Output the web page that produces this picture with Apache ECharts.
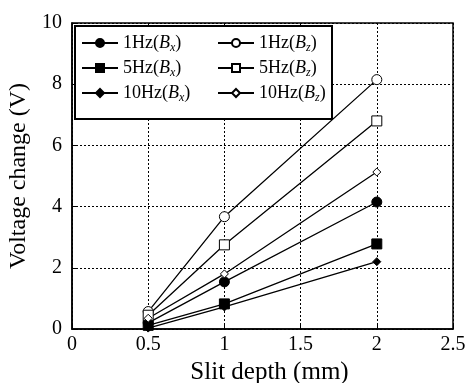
<!DOCTYPE html>
<html><head><meta charset="utf-8">
<script src="https://cdn.jsdelivr.net/npm/echarts@6/dist/echarts.min.js"></script>
<style>html,body{margin:0;padding:0;background:#fff}#c{width:467px;height:383px}</style>
</head><body><div id="c"></div>
<script>
const depths = [0.5, 1, 2];
const hz1Bx = [0.2, 1.54, 4.15];
const hz5Bx = [0.12, 0.82, 2.78];
const hz10Bx = [0.03, 0.72, 2.2];
const hz1Bz = [0.57, 3.67, 8.15];
const hz5Bz = [0.45, 2.75, 6.8];
const hz10Bz = [0.35, 1.8, 5.13];
const xTicks = [0, 0.5, 1, 1.5, 2, 2.5];
const yTicks = [0, 2, 4, 6, 8, 10];

const seriesDefs = [
  {name: '1Hz(Bx)', data: hz1Bx, symbol: 'circle', size: 10, fill: '#000', freq: '1Hz', sub: 'x'},
  {name: '1Hz(Bz)', data: hz1Bz, symbol: 'circle', size: 10, fill: '#fff', freq: '1Hz', sub: 'z'},
  {name: '5Hz(Bx)', data: hz5Bx, symbol: 'rect', size: 10, fill: '#000', freq: '5Hz', sub: 'x'},
  {name: '5Hz(Bz)', data: hz5Bz, symbol: 'rect', size: 10, fill: '#fff', freq: '5Hz', sub: 'z'},
  {name: '10Hz(Bx)', data: hz10Bx, symbol: 'diamond', size: 8, fill: '#000', freq: '10Hz', sub: 'x'},
  {name: '10Hz(Bz)', data: hz10Bz, symbol: 'diamond', size: 8, fill: '#fff', freq: '10Hz', sub: 'z'}
];
const lookup = {};
seriesDefs.forEach(s => lookup[s.name] = s);

const FONT = 'Liberation Serif';
const rich = {
  n: {fontFamily: FONT, fontSize: 18, color: '#000', lineHeight: 22, verticalAlign: 'middle'},
  i: {fontFamily: FONT, fontStyle: 'italic', fontSize: 18, color: '#000', lineHeight: 22, verticalAlign: 'middle'},
  s: {fontFamily: FONT, fontStyle: 'italic', fontSize: 12, color: '#000', lineHeight: 12, verticalAlign: 'bottom'}
};
function fmt(name) {
  const s = lookup[name];
  return '{n|' + s.freq + '(}{i|B}{s|' + s.sub + '}{n|)}';
}
function legend(names, left) {
  return {
    data: names, orient: 'vertical', left: left, top: 34,
    itemWidth: 36, itemHeight: 10, itemGap: 5,
    formatter: fmt, textStyle: {rich: rich}, selectedMode: false, padding: 0
  };
}

const chart = echarts.init(document.getElementById('c'), null, {renderer: 'canvas'});
chart.setOption({
  animation: false,
  backgroundColor: '#fff',
  grid: {left: 72, right: 14, top: 23, bottom: 54, outerBoundsMode: 'none', containLabel: false,
    show: true, borderColor: '#000', borderWidth: 1.5, backgroundColor: 'transparent'},
  graphic: [{
    type: 'rect', left: 74, top: 25, z: 3,
    shape: {width: 257, height: 93},
    style: {fill: '#fff', stroke: '#000', lineWidth: 2}
  }],
  legend: [
    legend(['1Hz(Bx)', '5Hz(Bx)', '10Hz(Bx)'], 81),
    legend(['1Hz(Bz)', '5Hz(Bz)', '10Hz(Bz)'], 217)
  ],
  xAxis: {
    type: 'value', min: 0, max: 2.5, interval: 0.5,
    name: 'Slit depth (mm)', nameLocation: 'middle', nameGap: 29,
    nameTextStyle: {fontFamily: FONT, fontSize: 25, color: '#000', padding: [0, 0, 0, 14]},
    axisLine: {show: true, lineStyle: {color: '#000', width: 1.5}},
    axisTick: {show: true, inside: true, length: 4, lineStyle: {color: '#000'}},
    axisLabel: {fontFamily: FONT, fontSize: 20, color: '#000', margin: 6,
      formatter: v => xTicks.includes(v) ? String(v) : ''},
    splitLine: {show: true, lineStyle: {color: '#000', type: [2, 2], width: 1}}
  },
  yAxis: {
    type: 'value', min: 0, max: 10, interval: 2,
    name: 'Voltage change (V)', nameLocation: 'middle', nameGap: 31,
    nameTextStyle: {fontFamily: FONT, fontSize: 24, color: '#000'},
    axisLine: {show: true, lineStyle: {color: '#000', width: 1.5}},
    axisTick: {show: true, inside: true, length: 4, lineStyle: {color: '#000'}},
    axisLabel: {fontFamily: FONT, fontSize: 20, color: '#000', margin: 10,
      formatter: v => yTicks.includes(v) ? String(v) : ''},
    splitLine: {show: true, lineStyle: {color: '#000', type: [2, 2], width: 1}}
  },
  series: seriesDefs.map(s => ({
    name: s.name, type: 'line',
    data: depths.map((d, k) => [d, s.data[k]]),
    symbol: s.symbol, symbolSize: s.size, showAllSymbol: true,
    lineStyle: {color: '#000', width: 1.3},
    itemStyle: {color: s.fill, borderColor: '#000', borderWidth: 1},
    emphasis: {disabled: true}
  }))
});
</script></body></html>
